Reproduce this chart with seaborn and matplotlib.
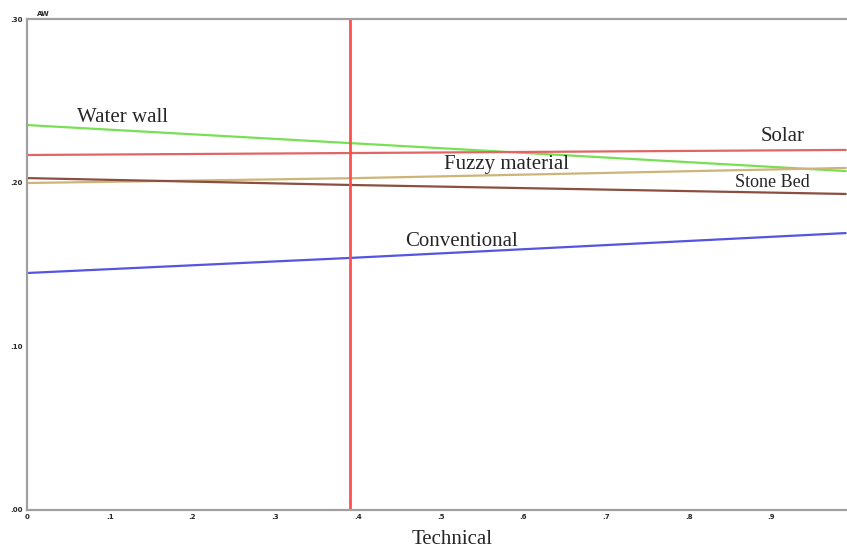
import pandas as pd
import matplotlib
matplotlib.use("Agg")
import matplotlib.pyplot as plt
import seaborn as sns

# readings along the x axis (left edge, cursor, right edge)
x_pts = [0.0, 0.39, 0.99]
water_wall = [0.2352, 0.2242, 0.2071]
solar = [0.2169, 0.2181, 0.2200]
fuzzy_material = [0.1998, 0.2027, 0.2090]
stone_bed = [0.2028, 0.1986, 0.1931]
conventional = [0.1448, 0.1540, 0.1692]

series_names = ["Water wall", "Solar", "Fuzzy material", "Stone Bed", "Conventional"]
series_vals = [water_wall, solar, fuzzy_material, stone_bed, conventional]
colors = ["#78e055", "#e26565", "#cdb57a", "#8c4f3f", "#5555e2"]

cursor_x = 0.39
x_ticks = [0, .1, .2, .3, .4, .5, .6, .7, .8, .9]
x_ticklabels = ["0", ".1", ".2", ".3", ".4", ".5", ".6", ".7", ".8", ".9"]
y_ticks = [0.0, 0.1, 0.2, 0.3]
y_ticklabels = [".00", ".10", ".20", ".30"]

rows = []
for name, vals in zip(series_names, series_vals):
    for x, v in zip(x_pts, vals):
        rows.append({"x": x, "value": v, "series": name})
df = pd.DataFrame(rows)

sns.set_style("white")
plt.rcParams["font.family"] = ["Liberation Serif", "DejaVu Serif"]

fig = plt.figure(figsize=(8.47, 5.48), dpi=100)
ax = fig.add_axes([27 / 847, 1 - 510 / 548, 1 - 27 / 847, (510 - 19) / 548])

sns.lineplot(data=df, x="x", y="value", hue="series", hue_order=series_names,
             palette=colors, linewidth=1.6, legend=False, ax=ax)
ax.axvline(cursor_x, color="#ff4f4f", linewidth=2)

ax.set_xlim(0, 820 / 827)
ax.set_ylim(0, 0.3)

ax.set_xticks(x_ticks)
ax.set_xticklabels(x_ticklabels, fontsize=5, fontweight="bold", family="DejaVu Sans")
ax.set_xticks([t + 0.05 for t in x_ticks], minor=True)
ax.set_yticks(y_ticks)
ax.set_yticklabels(y_ticklabels, fontsize=5, fontweight="bold", family="DejaVu Sans")
ax.set_yticks([0.05, 0.15, 0.25], minor=True)
ax.tick_params(axis="both", which="major", direction="in", length=6, width=1,
               color="#999999", pad=3)
ax.tick_params(axis="both", which="minor", direction="in", length=3, width=1,
               color="#999999")

for side in ["left", "bottom", "top"]:
    ax.spines[side].set_color("#a0a0a0")
    ax.spines[side].set_linewidth(1.6)
ax.spines["right"].set_visible(False)

ax.set_xlabel("Technical", fontsize=15)
ax.xaxis.set_label_coords(0.518, -0.04)
ax.xaxis.label.set_va("top")
ax.set_ylabel("")
ax.text(0.012, 1.004, "AW", transform=ax.transAxes, fontsize=5,
        fontweight="bold", family="DejaVu Sans", va="bottom")

# line labels
ax.text(0.116, 0.240, "Water wall", fontsize=15, ha="center", va="center")
ax.text(0.914, 0.2285, "Solar", fontsize=15, ha="center", va="center")
ax.text(0.580, 0.211, "Fuzzy material", fontsize=15, ha="center", va="center")
ax.text(0.901, 0.2000, "Stone Bed", fontsize=13, ha="center", va="center")
ax.text(0.525, 0.164, "Conventional", fontsize=15, ha="center", va="center")

plt.savefig("out.png", dpi=100)
plt.close()
